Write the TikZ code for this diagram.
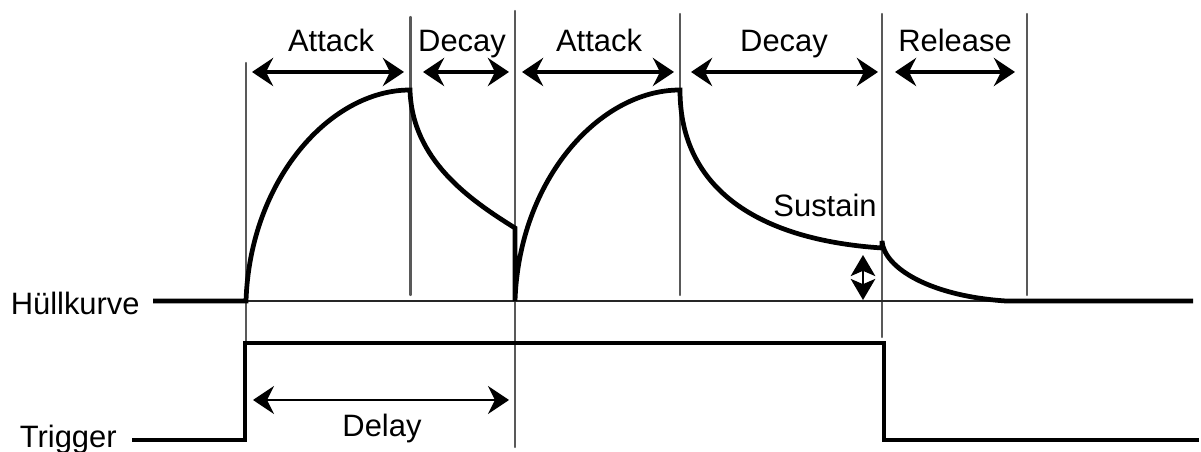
\documentclass[tikz,border=0pt]{standalone}
\usepackage{fontspec}
\setmainfont{Liberation Sans}
\usepackage{tkz-euclide}
\usetikzlibrary{arrows.meta}
\tikzset{>={Stealth[length=12pt,width=16pt,inset=4pt]}}
\tikzset{
  grid/.style={line width=1.3pt, black!65},
  base/.style={line width=0.9pt, black!85},
  envline/.style={line width=2.7pt},
  trig/.style={line width=2.4pt},
  span/.style={<->, line width=1.8pt},
  lbl/.style={inner sep=0pt, anchor=base, font=\fontsize{17.6}{20}\selectfont}
}

\begin{document}
\begin{tikzpicture}[x=0.02cm, y=-0.02cm]
    \useasboundingbox (0,0) rectangle (1201,452);
    \tkzDefPoints{246/63/T1, 246/343/B1, 410.5/17/T2, 410.5/295/B2, 515/11/T3, 515/447/B3}
    \tkzDefPoints{680/14/T4, 680/295/B4, 882/14/T5, 882/337/B5, 1027/14/T6, 1027/295/B6}
    \tkzDrawSegments[grid](T1,B1 T2,B2 T3,B3 T4,B4 T5,B5 T6,B6)
    % Huellkurve
    \tkzDefPoints{153/301/H0, 246/301/A0, 410/90/A1, 515/228/D1, 515/301/A2, 680/90/P2}
    \tkzDefPoints{882/248/S0, 882/241/R0, 1006/301/R1, 1193/301/H1}
    \draw[base] (A0) -- (R1);
    \draw[envline] (H0) -- (A0) .. controls (250,180) and (330,90) .. (A1)
        .. controls (412,160) and (470,200) .. (D1) -- (A2)
        .. controls (519,180) and (599,90) .. (P2)
        .. controls (680,190) and (760,240) .. (S0) -- (R0)
        .. controls (884,268) and (930,296) .. (R1) -- (H1);
    % Trigger
    \tkzDefPoints{132/440/t0, 245/440/t1, 245/343/t2, 884/343/t3, 884/440/t4, 1199/440/t5}
    \draw[trig] (t0) -- (t1) -- (t2) -- (t3) -- (t4) -- (t5);
    % Pfeile
    \tkzDefPoints{252/72/a1, 404/72/a2, 423/72/d1, 509/72/d2, 522/72/a3, 674/72/a4}
    \tkzDefPoints{691/72/d3, 878/72/d4, 895/72/r1, 1015/72/r2, 253/400/l1, 509/400/l2}
    \tkzDefPoints{863/255/s1, 863/300/s2}
    \draw[span] (a1) -- (a2);
    \draw[span] (d1) -- (d2);
    \draw[span] (a3) -- (a4);
    \draw[span] (d3) -- (d4);
    \draw[span] (r1) -- (r2);
    \draw[span, line width=1.2pt] (l1) -- (l2);
    \draw[{Stealth[length=12pt,width=14pt,inset=3pt]}-{Stealth[length=12pt,width=14pt,inset=3pt]}, line width=1.3pt] (s1) -- (s2);
    % Beschriftung
    \node[lbl] (attack1) at (331,52) {Attack};
    \node[lbl] (decay1) at (462,52) {Decay};
    \node[lbl] (attack2) at (599,52) {Attack};
    \node[lbl] (decay2) at (784,52) {Decay};
    \node[lbl] (release) at (955,52) {Release};
    \node[lbl] (sustain) at (825,217) {Sustain};
    \node[lbl] (delay) at (382,437) {Delay};
    \node[lbl, anchor=base east] (huell) at (140,315) {Hüllkurve};
    \node[lbl, anchor=base east] (trigger) at (117,448) {Trigger};
\end{tikzpicture}
\end{document}
